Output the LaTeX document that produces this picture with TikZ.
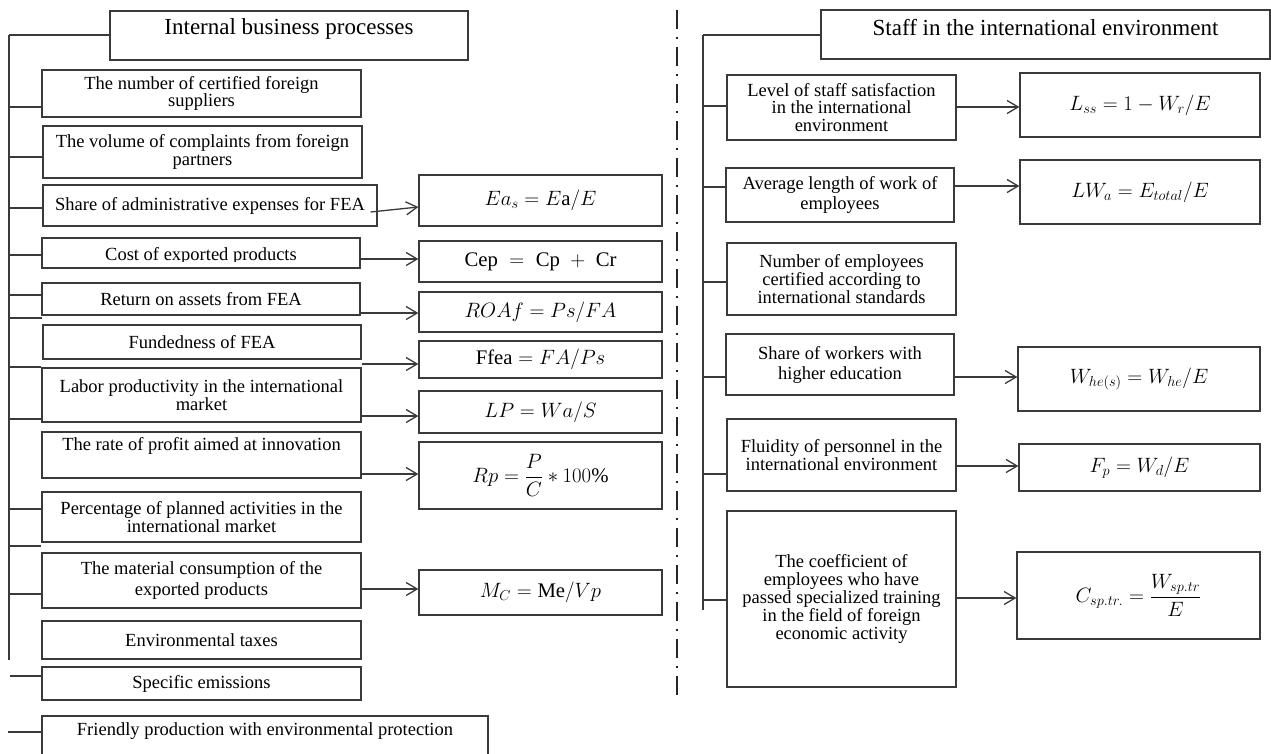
\documentclass[tikz,border=0pt]{standalone}
\usepackage{amsmath}
\usepackage{fontspec}
\setmainfont{Liberation Serif}
\usetikzlibrary{arrows.meta}
\definecolor{linec}{HTML}{3A3A3A}
\newcommand\bodyfs{\fontsize{18.5}{17.5}\selectfont}
\newcommand\titlefs{\fontsize{23}{26}\selectfont}
\newcommand\mathfs{\fontsize{20.74}{24}\selectfont}
\newcommand\bx[7][]{\node[box,#1,minimum width={#5-#3},minimum height={#6-#4}] (#2) at ({(#3+#5)/2},{(#4+#6)/2}) {#7};}
\begin{document}
\begin{tikzpicture}[x=1pt,y=-1pt,
  box/.style={draw=linec,line width=1.3pt,inner sep=0pt,align=center,font=\bodyfs},
  fbox/.style={font=\mathfs},
  ln/.style={draw=linec,line width=1.3pt},
  arr/.style={draw=linec,line width=1.3pt,-{Straight Barb[length=11pt,width=13pt,line width=1.3pt]}},
  divider/.style={draw=black!85,line width=2.5pt,dash pattern=on 19pt off 8pt on 2pt off 8pt}]
\clip (0,0) rectangle (1271,753);

% ---------- left column ----------
\bx{lt}{110}{11}{468}{60}{}
\node[font=\titlefs] (ltt) at (289,29) {Internal business processes};
\bx{b1}{42}{70}{361}{117}{The number of certified foreign\\suppliers}
\bx{b2}{43}{126}{362}{178}{The volume of complaints from foreign\\partners}
\bx{b3}{43}{185}{377}{226}{Share of administrative expenses for FEA}
\bx{b4}{42}{238}{360}{268}{}
\begin{scope}
\clip (42,238) rectangle (360,261);
\node[font=\bodyfs,anchor=base] (b4t) at (201,260) {Cost of exported products};
\end{scope}
\bx{b5}{42}{283}{360}{315}{Return on assets from FEA}
\bx{b6}{43}{325}{361}{359}{Fundedness of FEA}
\bx{b7}{42}{368}{361}{422}{Labor productivity in the international\\market}
\bx{b8}{42}{432}{361}{478}{}
\node[font=\bodyfs] (b8t) at (201.5,446) {The rate of profit aimed at innovation};
\bx{b9}{42}{492}{361}{542}{Percentage of planned activities in the\\international market}
\bx[font={\fontsize{18.5}{21}\selectfont}]{b10}{42}{553}{361}{608}{The material consumption of the\\exported products}
\bx{b11}{42}{621}{361}{659}{Environmental taxes}
\bx{b12}{42}{667}{361}{700}{Specific emissions}
\bx{b13}{42}{716}{488}{772}{}
\node[font=\bodyfs] (b13t) at (265,731) {Friendly production with environmental protection};

\bx[fbox]{f1}{419}{175}{662}{226}{$Ea_s=E\text{a}/E$}
\bx[fbox]{f2}{419}{241}{662}{282}{$\text{Cep}\;=\;\text{Cp}\;+\;\text{Cr}$}
\bx[fbox]{f3}{419}{292}{662}{332}{$ROAf=Ps/FA$}
\bx[fbox]{f4}{419}{341}{662}{378}{$\text{Ffea}=FA/Ps$}
\bx[fbox]{f5}{419}{391}{662}{433}{$LP=Wa/S$}
\bx[fbox]{f6}{419}{442}{662}{509}{$Rp=\dfrac{P}{C}*100\%$}
\bx[fbox]{f7}{419}{570}{662}{615}{$M_C=\text{Me}/Vp$}

% left bus
\coordinate (lbt) at (9,35);
\coordinate (lbb) at (9,660);
\draw[ln] (lbt) -- (lbb);
\draw[ln] (lbt) -- (lbt -| lt.west);
\foreach \yy/\tt in {107/b1,157/b2,208/b3,255/b4,295/b5,318/b6,367/b7,419/b7,509/b9,546/b10,594/b10}{
  \coordinate (lc) at (8,\yy);
  \draw[ln] (lc) -- (lc -| \tt.west);
}
\coordinate (lc12) at (10,676);
\draw[ln] (lc12) -- (lc12 -| b12.west);
\coordinate (lc13) at (8,732);
\draw[ln] (lc13) -- (lc13 -| b13.west);

% left arrows
\draw[arr] ([shift={(-7,6.5)}]b3.east) -- ([shift={(0,6.5)}]f1.west);
\draw[arr] (b4.east |- 0,259) -- (f2.west |- 0,259);
\draw[arr] (b5.east |- 0,313) -- (f3.west |- 0,313);
\draw[arr] (b6.east |- 0,364) -- (f4.west |- 0,364);
\draw[arr] (b7.east |- 0,416) -- (f5.west |- 0,416);
\draw[arr] (b8.east |- 0,474) -- (f6.west |- 0,474);
\draw[arr] (b10.east |- 0,589) -- (f7.west |- 0,589);

% ---------- divider ----------
\coordinate (d1) at (677,10);
\coordinate (d2) at (677,702);
\draw[divider] (d1) -- (d2);

% ---------- right column ----------
\bx{rt}{821}{10}{1270}{59}{}
\node[font=\titlefs] (rtt) at (1045.5,28) {Staff in the international environment};
\bx{r1}{727}{75}{956}{140}{Level of staff satisfaction\\in the international\\environment}
\bx[font={\fontsize{18.5}{20}\selectfont}]{r2}{726}{168}{954}{222}{Average length of work of\\employees}
\bx[font={\fontsize{18.5}{18}\selectfont}]{r3}{727}{243}{956}{315}{Number of employees\\certified according to\\international standards}
\bx[font={\fontsize{18.5}{20}\selectfont}]{r4}{726}{334}{954}{395}{Share of workers with\\higher education}
\bx[font={\fontsize{18.5}{18}\selectfont}]{r5}{727}{419}{956}{491}{Fluidity of personnel in the\\international environment}
\bx[font={\fontsize{18.5}{18}\selectfont}]{r6}{727}{511}{956}{687}{The coefficient of\\employees who have\\passed specialized training\\in the field of foreign\\economic activity}

\bx[fbox]{g1}{1020}{73}{1260}{137}{$L_{ss}=1-W_r/E$}
\bx[fbox]{g2}{1020}{160}{1260}{224}{$LW_a=E_{total}/E$}
\bx[fbox]{g3}{1018}{347}{1260}{411}{$W_{he(s)}=W_{he}/E$}
\bx[fbox]{g4}{1019}{444}{1260}{491}{$F_p=W_d/E$}
\bx[fbox]{g5}{1017}{552}{1260}{639}{$C_{sp.tr.}=\dfrac{W_{sp.tr}}{E}$}

% right bus
\coordinate (rbt) at (703,35);
\coordinate (rbb) at (703,610);
\draw[ln] (rbt) -- (rbb);
\draw[ln] (rbt) -- (rbt -| rt.west);
\foreach \yy/\tt in {106/r1,187/r2,282/r3,377/r4,474/r5,600/r6}{
  \coordinate (rc) at (703,\yy);
  \draw[ln] (rc) -- (rc -| \tt.west);
}

% right arrows
\draw[arr] (r1.east |- 0,107) -- (g1.west |- 0,107);
\draw[arr] (r2.east |- 0,186) -- (g2.west |- 0,186);
\draw[arr] (r4.east |- 0,377) -- (g3.west |- 0,377);
\draw[arr] (r5.east |- 0,466) -- (g4.west |- 0,466);
\draw[arr] (r6.east |- 0,598) -- (g5.west |- 0,598);
\end{tikzpicture}
\end{document}
